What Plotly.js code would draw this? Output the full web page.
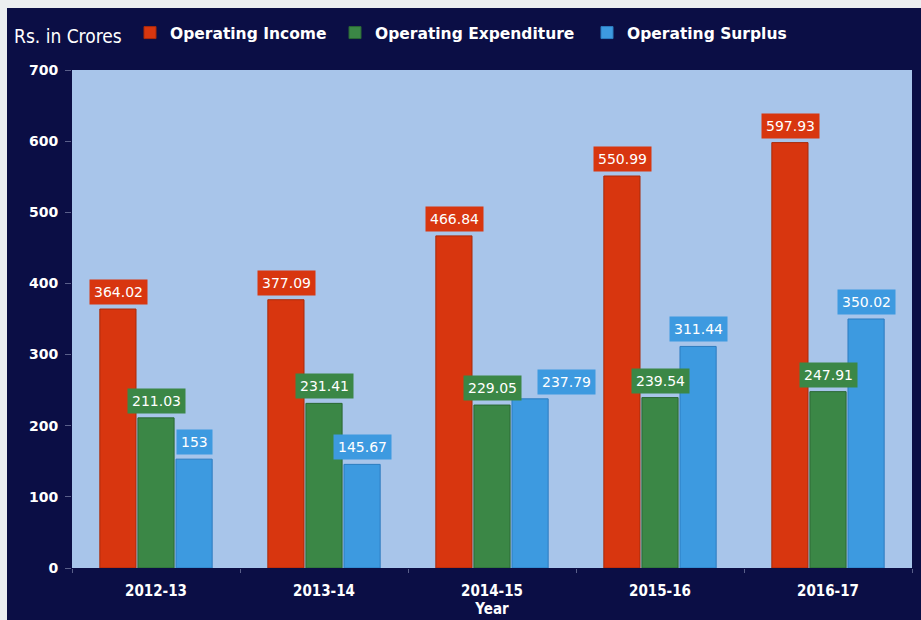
<!DOCTYPE html>
<html>
<head>
<meta charset="utf-8">
<script src="https://cdn.plot.ly/plotly-3.0.1.min.js"></script>
<style>
  html, body { margin: 0; padding: 0; background: #eceef0; }
  #chart { position: absolute; left: 7px; top: 8px; width: 914px; height: 612px; }
</style>
</head>
<body>
<div id="chart"></div>
<script>
const years = ["2012-13", "2013-14", "2014-15", "2015-16", "2016-17"];
const operatingIncome = [364.02, 377.09, 466.84, 550.99, 597.93];
const operatingExpenditure = [211.03, 231.41, 229.05, 239.54, 247.91];
const operatingSurplus = [153, 145.67, 237.79, 311.44, 350.02];
const yTicks = [0, 100, 200, 300, 400, 500, 600, 700];

const colors = { inc: "#d8360f", exp: "#3b8746", sur: "#3d9ae0" };
const lineColors = { inc: "#a82a0a", exp: "#2a6634", sur: "#2c7cc0" };

const W = 914, H = 612;
const series = [
  { name: "Operating Income", y: operatingIncome, key: "inc", legend: "legend", lx: 123 },
  { name: "Operating Expenditure", y: operatingExpenditure, key: "exp", legend: "legend2", lx: 328 },
  { name: "Operating Surplus", y: operatingSurplus, key: "sur", legend: "legend3", lx: 580 }
];

const traces = series.map(s => ({
  type: "bar",
  name: s.name,
  x: years,
  y: s.y,
  legend: s.legend,
  marker: { color: colors[s.key], line: { color: lineColors[s.key], width: 1 } },
  hoverinfo: "x+y+name"
}));

const boldFont = "DejaVu Sans, Verdana, sans-serif";
const condFont = "DejaVu Sans Condensed, Liberation Sans Narrow, Liberation Sans, Arial, sans-serif";

const slotPx = 38;
const annotations = [];
series.forEach((s, si) => {
  s.y.forEach((v, i) => {
    let shift = (si - 1) * slotPx;
    // avoid overlapping with neighbour label when values are close
    if (si === 2 && Math.abs(v - operatingExpenditure[i]) < 20) shift += 36;
    annotations.push({
      x: years[i], y: v, xref: "x", yref: "y",
      text: String(v), showarrow: false,
      xshift: shift, yshift: 4, yanchor: "bottom",
      bgcolor: colors[s.key], borderpad: 4,
      font: { family: "DejaVu Sans, sans-serif", size: 14, color: "#ffffff" }
    });
  });
});
annotations.push({
  text: "Rs. in Crores", xref: "paper", yref: "paper",
  x: -0.071, y: 1.068, xanchor: "left", yanchor: "middle", showarrow: false,
  font: { family: condFont, size: 19, color: "#ffffff" }
});

function mkLegend(lx) {
  return {
    orientation: "h", xref: "container", yref: "container",
    x: lx / W, y: 1 - 25 / H, xanchor: "left", yanchor: "middle",
    font: { family: boldFont, size: 15.5, color: "#ffffff", weight: "bold" },
    bgcolor: "rgba(0,0,0,0)", itemwidth: 30
  };
}

const layout = {
  width: W, height: H,
  paper_bgcolor: "#0b0e45",
  plot_bgcolor: "#a8c5ea",
  margin: { l: 65, r: 9, t: 62, b: 52 },
  barmode: "group",
  bargap: 0.32,
  bargroupgap: 0.05,
  showlegend: true,
  legend: mkLegend(series[0].lx),
  legend2: mkLegend(series[1].lx),
  legend3: mkLegend(series[2].lx),
  xaxis: {
    type: "category",
    tickfont: { family: condFont, size: 15, color: "#ffffff", weight: "bold" },
    ticks: "outside", tickson: "boundaries", ticklen: 4, tickcolor: "#5a5f8a",
    ticklabelstandoff: 12,
    showgrid: false, zeroline: false, showline: false,
    title: { text: "Year", standoff: 2, font: { family: condFont, size: 15, color: "#ffffff", weight: "bold" } }
  },
  yaxis: {
    range: [0, 700], tickvals: yTicks,
    tickfont: { family: boldFont, size: 14, color: "#ffffff", weight: "bold" },
    ticks: "outside", ticklen: 6, tickcolor: "#5a5f8a",
    ticklabelstandoff: 4,
    showgrid: false, zeroline: false, showline: false
  },
  annotations: annotations
};

Plotly.newPlot("chart", traces, layout, { displayModeBar: false, staticPlot: true });
</script>
</body>
</html>
